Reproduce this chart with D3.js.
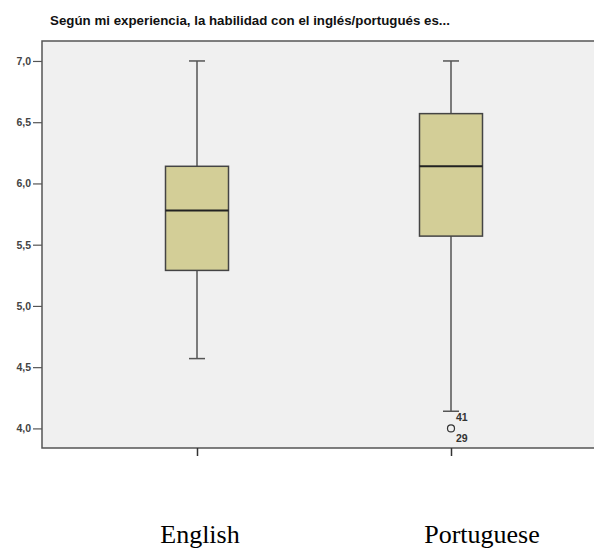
<!DOCTYPE html>
<html>
<head>
<meta charset="utf-8">
<script src="https://cdn.jsdelivr.net/npm/d3@7"></script>
<style>
  body { margin: 0; background: #fff; }
  svg { display: block; }
</style>
</head>
<body>
<svg id="chart" width="594" height="548"></svg>
<script>
// box statistics
var categories = ["English", "Portuguese"];
var whiskerLow = [4.57, 4.14];
var q1 = [5.29, 5.57];
var medians = [5.78, 6.14];
var q3 = [6.14, 6.57];
var whiskerHigh = [7.0, 7.0];
var outliers = [[], [{ value: 4.0, labels: ["41", "29"] }]];
var yTicks = [4.0, 4.5, 5.0, 5.5, 6.0, 6.5, 7.0];
var title = "Según mi experiencia, la habilidad con el inglés/portugués es...";

var svg = d3.select("#chart");
var plotLeft = 42, plotTop = 41, plotRight = 596, plotBottom = 448;

var y = d3.scaleLinear().domain([3.84, 7.163]).range([plotBottom, plotTop]);
var x = d3.scalePoint().domain(categories).range([197, 451]);
var boxW = 63;

var fmt = function(d) { return d3.format(".1f")(d).replace(".", ","); };

svg.append("text")
    .attr("x", 250).attr("y", 25)
    .attr("text-anchor", "middle")
    .attr("font-family", "Liberation Sans, Arial, sans-serif")
    .attr("font-weight", "bold")
    .attr("font-size", 13.3)
    .attr("fill", "#111")
    .text(title);

svg.append("rect")
    .attr("x", plotLeft).attr("y", plotTop)
    .attr("width", plotRight - plotLeft).attr("height", plotBottom - plotTop)
    .attr("fill", "#f0f0f0")
    .attr("stroke", "#555").attr("stroke-width", 1.5);

var yAxis = svg.append("g")
    .attr("transform", "translate(" + plotLeft + ",0)")
    .call(d3.axisLeft(y).tickValues(yTicks).tickFormat(fmt).tickSize(9).tickPadding(2));
yAxis.select(".domain").remove();
yAxis.selectAll("line").attr("stroke", "#555").attr("stroke-width", 1.2);
yAxis.selectAll("text")
    .attr("font-family", "Liberation Sans, Arial, sans-serif")
    .attr("font-weight", "bold")
    .attr("font-size", 10.5)
    .attr("fill", "#444");

var xAxis = svg.append("g")
    .attr("transform", "translate(0," + plotBottom + ")")
    .call(d3.axisBottom(x).tickSize(8).tickFormat(""));
xAxis.select(".domain").remove();
xAxis.selectAll("line").attr("stroke", "#333").attr("stroke-width", 1.5);

var idx = d3.range(categories.length);
var g = svg.selectAll(".box").data(idx).enter().append("g").attr("class", "box");

// whiskers
g.append("line")
    .attr("x1", function(i) { return x(categories[i]); })
    .attr("x2", function(i) { return x(categories[i]); })
    .attr("y1", function(i) { return y(whiskerHigh[i]); })
    .attr("y2", function(i) { return y(q3[i]); })
    .attr("stroke", "#555").attr("stroke-width", 1.5);
g.append("line")
    .attr("x1", function(i) { return x(categories[i]); })
    .attr("x2", function(i) { return x(categories[i]); })
    .attr("y1", function(i) { return y(q1[i]); })
    .attr("y2", function(i) { return y(whiskerLow[i]); })
    .attr("stroke", "#555").attr("stroke-width", 1.5);
[whiskerLow, whiskerHigh].forEach(function(arr) {
  g.append("line")
      .attr("x1", function(i) { return x(categories[i]) - 8; })
      .attr("x2", function(i) { return x(categories[i]) + 8; })
      .attr("y1", function(i) { return y(arr[i]); })
      .attr("y2", function(i) { return y(arr[i]); })
      .attr("stroke", "#555").attr("stroke-width", 1.5);
});

// boxes
g.append("rect")
    .attr("x", function(i) { return x(categories[i]) - boxW / 2; })
    .attr("y", function(i) { return y(q3[i]); })
    .attr("width", boxW)
    .attr("height", function(i) { return y(q1[i]) - y(q3[i]); })
    .attr("fill", "#d3ce97")
    .attr("stroke", "#444").attr("stroke-width", 1.5);
g.append("line")
    .attr("x1", function(i) { return x(categories[i]) - boxW / 2; })
    .attr("x2", function(i) { return x(categories[i]) + boxW / 2; })
    .attr("y1", function(i) { return y(medians[i]); })
    .attr("y2", function(i) { return y(medians[i]); })
    .attr("stroke", "#222").attr("stroke-width", 2);

// outliers
idx.forEach(function(i) {
  outliers[i].forEach(function(o) {
    var cx = x(categories[i]), cy = y(o.value);
    svg.append("circle")
        .attr("cx", cx).attr("cy", cy).attr("r", 3.5)
        .attr("fill", "none").attr("stroke", "#333").attr("stroke-width", 1.2);
    o.labels.forEach(function(lab, k) {
      svg.append("text")
          .attr("x", cx + 5).attr("y", cy - 7 + k * 21)
          .attr("font-family", "Liberation Sans, Arial, sans-serif")
          .attr("font-weight", "bold")
          .attr("font-size", 10.5)
          .attr("fill", "#333")
          .text(lab);
    });
  });
});

// category labels
var labelX = [200, 482];
svg.selectAll(".cat").data(categories).enter().append("text")
    .attr("class", "cat")
    .attr("x", function(d, i) { return labelX[i]; })
    .attr("y", 543)
    .attr("text-anchor", "middle")
    .attr("font-family", "Liberation Serif, Times New Roman, serif")
    .attr("font-size", 26)
    .attr("fill", "#000")
    .text(function(d) { return d; });
</script>
</body>
</html>
